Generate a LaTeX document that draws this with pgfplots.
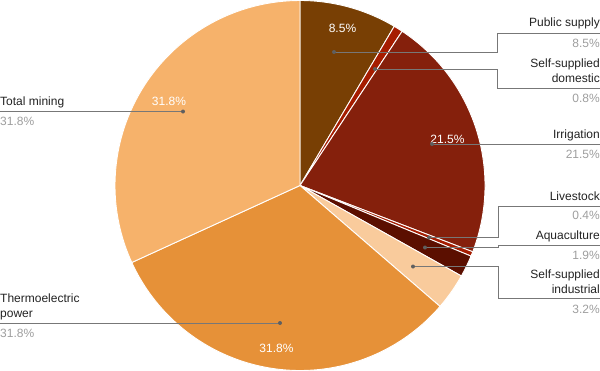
\documentclass[border=0pt]{standalone}
\usepackage{pgfplots}
\pgfplotsset{compat=1.18}
\usepackage{fontspec}
\setmainfont{Liberation Sans}
\definecolor{cPS}{HTML}{783F04}
\definecolor{cSD}{HTML}{A61C00}
\definecolor{cIR}{HTML}{85200C}
\definecolor{cLS}{HTML}{A61C00}
\definecolor{cAQ}{HTML}{5B0F00}
\definecolor{cSI}{HTML}{F9CB9C}
\definecolor{cTP}{HTML}{E69138}
\definecolor{cTM}{HTML}{F6B26B}
\definecolor{lc}{HTML}{777777}
\definecolor{vc}{HTML}{9E9E9E}
\definecolor{nc}{HTML}{222222}
% slice: colour, cumulative start (%), cumulative end (%); total 99.9
\newcommand{\slice}[3]{%
  \fill[#1, draw=white, line width=0.9bp] (axis cs:300,185.5) -- +({90-#2*(360/99.9)}:185bp)
    arc[start angle={90-#2*(360/99.9)}, end angle={90-#3*(360/99.9)}, radius=185bp] -- cycle;}
\newcommand{\dotat}[2]{\fill[lc!80!black] (axis cs:#1,#2) circle[radius=2bp];}
\begin{document}
\begin{tikzpicture}
\useasboundingbox (0,0) rectangle (600bp,371bp);
\begin{axis}[
  scale only axis, width=600bp, height=371bp,
  xmin=0, xmax=600, ymin=0, ymax=371, y dir=reverse,
  hide axis, clip=false,
  font=\fontsize{12bp}{14bp}\selectfont,
]
% values (percent): 8.5, 0.8, 21.5, 0.4, 1.9, 3.2, 31.8, 31.8
\addplot[draw=none, forget plot] coordinates {(300,185.5)};
\slice{cPS}{0}{8.5}
\slice{cSD}{8.5}{9.3}
\slice{cIR}{9.3}{30.8}
\slice{cLS}{30.8}{31.2}
\slice{cAQ}{31.2}{33.1}
\slice{cSI}{33.1}{36.3}
\slice{cTP}{36.3}{68.1}
\slice{cTM}{68.1}{99.9}
% inside labels
\node[anchor=base, inner sep=0, text=white] at (axis cs:342.5,32) {8.5\%};
\node[anchor=base, inner sep=0, text=white] at (axis cs:447.5,143) {21.5\%};
\node[anchor=base, inner sep=0, text=white] at (axis cs:169,105.5) {31.8\%};
\node[anchor=base, inner sep=0, text=white] at (axis cs:276.5,352) {31.8\%};
% leader lines
\draw[lc, line width=0.8bp] (axis cs:334,52) -- (axis cs:497.5,52) -- (axis cs:497.5,33) -- (axis cs:600,33);
\draw[lc, line width=0.8bp] (axis cs:375,69) -- (axis cs:497.5,69) -- (axis cs:497.5,88) -- (axis cs:600,88);
\draw[lc, line width=0.8bp] (axis cs:432,144) -- (axis cs:600,144);
\draw[lc, line width=0.8bp] (axis cs:429,237.5) -- (axis cs:498,237.5) -- (axis cs:498,206) -- (axis cs:600,206);
\draw[lc, line width=0.8bp] (axis cs:425,247.5) -- (axis cs:498,247.5) -- (axis cs:498,245.5) -- (axis cs:600,245.5);
\draw[lc, line width=0.8bp] (axis cs:413,266.5) -- (axis cs:498,266.5) -- (axis cs:498,298.5) -- (axis cs:600,298.5);
\draw[lc, line width=0.8bp] (axis cs:183,111.5) -- (axis cs:0,111.5);
\draw[lc, line width=0.8bp] (axis cs:280,323) -- (axis cs:0,323);
\dotat{334}{52}
\dotat{375}{69}
\dotat{432}{144}
\dotat{429}{237.5}
\dotat{425}{247.5}
\dotat{413}{266.5}
\dotat{183}{111.5}
\dotat{280}{323}
% right labels
\node[anchor=base east, inner sep=0, text=nc] at (axis cs:600,27) {Public supply};
\node[anchor=base east, inner sep=0, text=vc] at (axis cs:600,47) {8.5\%};
\node[anchor=base east, inner sep=0, text=nc] at (axis cs:600,67) {Self-supplied};
\node[anchor=base east, inner sep=0, text=nc] at (axis cs:600,82) {domestic};
\node[anchor=base east, inner sep=0, text=vc] at (axis cs:600,102) {0.8\%};
\node[anchor=base east, inner sep=0, text=nc] at (axis cs:600,138) {Irrigation};
\node[anchor=base east, inner sep=0, text=vc] at (axis cs:600,158) {21.5\%};
\node[anchor=base east, inner sep=0, text=nc] at (axis cs:600,200) {Livestock};
\node[anchor=base east, inner sep=0, text=vc] at (axis cs:600,219) {0.4\%};
\node[anchor=base east, inner sep=0, text=nc] at (axis cs:600,239) {Aquaculture};
\node[anchor=base east, inner sep=0, text=vc] at (axis cs:600,259) {1.9\%};
\node[anchor=base east, inner sep=0, text=nc] at (axis cs:600,278) {Self-supplied};
\node[anchor=base east, inner sep=0, text=nc] at (axis cs:600,293) {industrial};
\node[anchor=base east, inner sep=0, text=vc] at (axis cs:600,313) {3.2\%};
% left labels
\node[anchor=base west, inner sep=0, text=nc] at (axis cs:0,105) {Total mining};
\node[anchor=base west, inner sep=0, text=vc] at (axis cs:0,125) {31.8\%};
\node[anchor=base west, inner sep=0, text=nc] at (axis cs:0,302) {Thermoelectric};
\node[anchor=base west, inner sep=0, text=nc] at (axis cs:0,317) {power};
\node[anchor=base west, inner sep=0, text=vc] at (axis cs:0,337) {31.8\%};
\end{axis}
\end{tikzpicture}
\end{document}
